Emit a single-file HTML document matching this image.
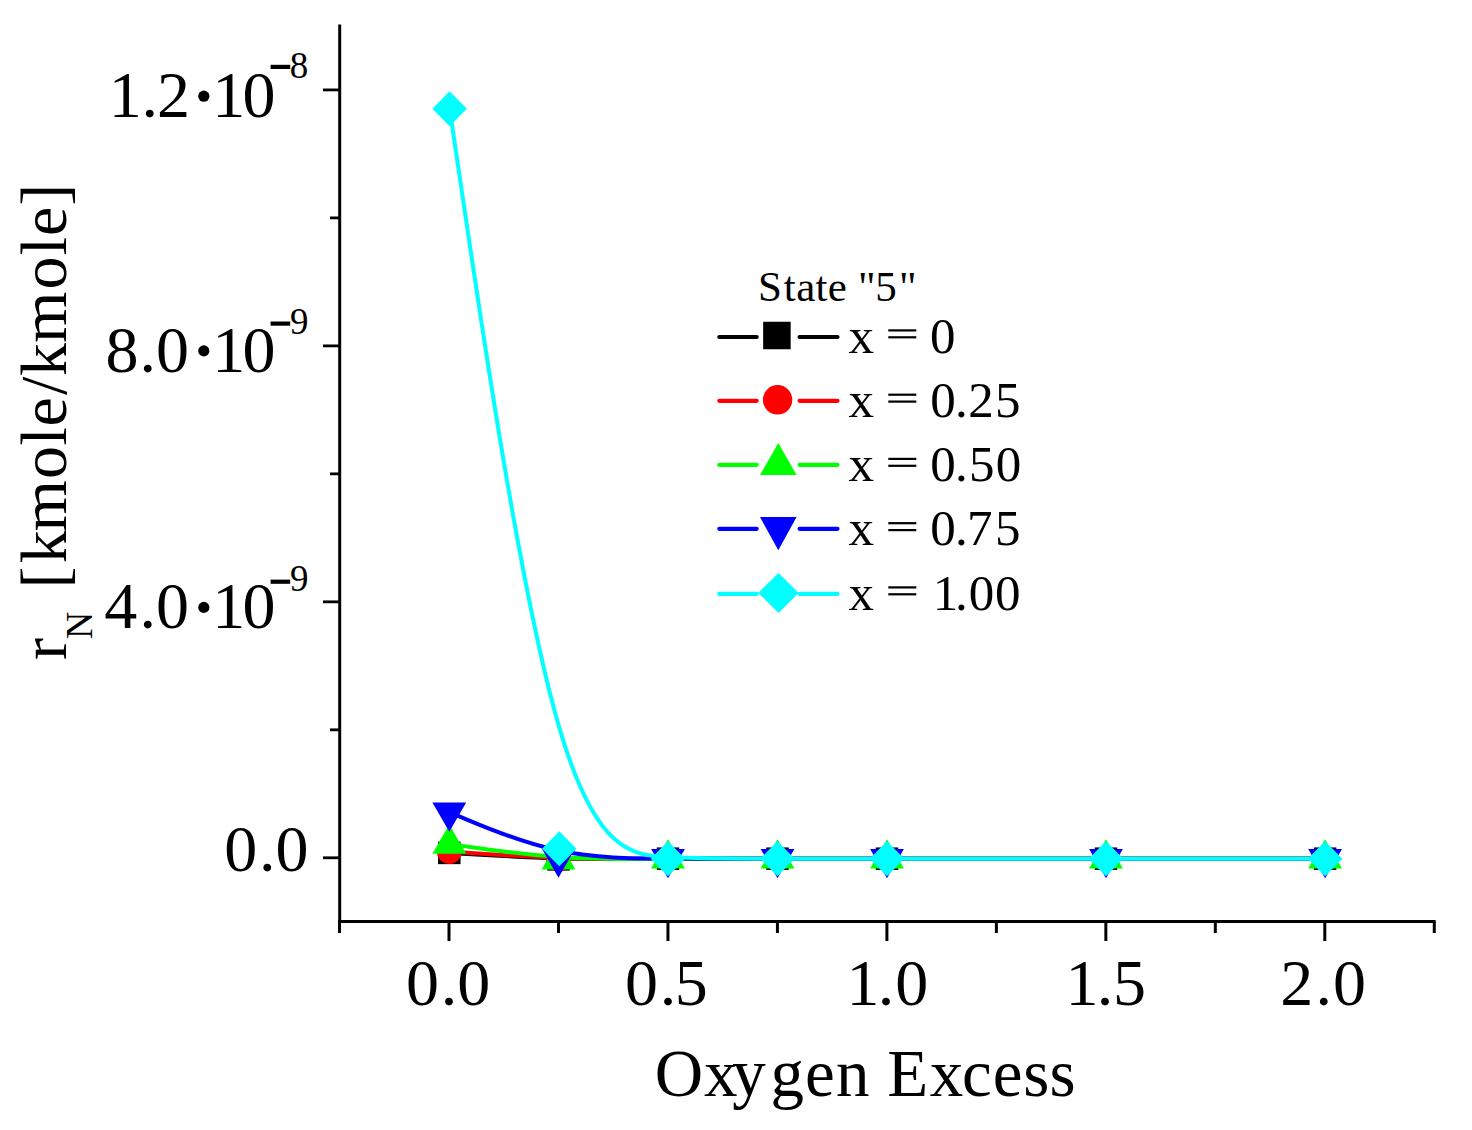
<!DOCTYPE html>
<html><head><meta charset="utf-8"><style>
html,body{margin:0;padding:0;background:#fff;overflow:hidden;}
svg{display:block;}
text{font-family:"Liberation Serif",serif;fill:#000;}
</style></head><body>
<svg width="1472" height="1130" viewBox="0 0 1472 1130">
<rect width="1472" height="1130" fill="#fff"/>
<path d="M449.30 852.90 C449.30 852.90 449.30 852.90 467.50 853.98 C485.70 855.07 522.10 857.23 558.55 858.20 C595.00 859.17 631.50 858.93 668.00 858.82 C704.50 858.70 741.00 858.70 777.50 858.70 C814.00 858.70 850.50 858.70 905.25 858.70 C960.00 858.70 1033.00 858.70 1106.02 858.70 C1179.03 858.70 1252.07 858.70 1288.58 858.70 C1325.10 858.70 1325.10 858.70 1325.10 858.70" fill="none" stroke="#000000" stroke-width="4" stroke-linejoin="round"/>
<rect x="438.05" y="841.65" width="22.5" height="22.5" fill="#000000"/>
<rect x="547.25" y="848.15" width="22.5" height="22.5" fill="#000000"/>
<rect x="656.75" y="847.45" width="22.5" height="22.5" fill="#000000"/>
<rect x="766.25" y="847.45" width="22.5" height="22.5" fill="#000000"/>
<rect x="875.75" y="847.45" width="22.5" height="22.5" fill="#000000"/>
<rect x="1094.75" y="847.45" width="22.5" height="22.5" fill="#000000"/>
<rect x="1313.85" y="847.45" width="22.5" height="22.5" fill="#000000"/>
<path d="M449.30 851.40 C449.30 851.40 449.30 851.40 467.50 852.68 C485.70 853.97 522.10 856.53 558.55 857.75 C595.00 858.97 631.50 858.83 668.00 858.77 C704.50 858.70 741.00 858.70 777.50 858.70 C814.00 858.70 850.50 858.70 905.25 858.70 C960.00 858.70 1033.00 858.70 1106.02 858.70 C1179.03 858.70 1252.07 858.70 1288.58 858.70 C1325.10 858.70 1325.10 858.70 1325.10 858.70" fill="none" stroke="#FF0000" stroke-width="4" stroke-linejoin="round"/>
<circle cx="449.3" cy="851.4" r="12.5" fill="#FF0000"/>
<circle cx="558.5" cy="859.1" r="12.5" fill="#FF0000"/>
<circle cx="668" cy="858.7" r="12.5" fill="#FF0000"/>
<circle cx="777.5" cy="858.7" r="12.5" fill="#FF0000"/>
<circle cx="887" cy="858.7" r="12.5" fill="#FF0000"/>
<circle cx="1106" cy="858.7" r="12.5" fill="#FF0000"/>
<circle cx="1325.1" cy="858.7" r="12.5" fill="#FF0000"/>
<path d="M449.30 844.00 C449.30 844.00 449.30 844.00 467.50 846.62 C485.70 849.23 522.10 854.47 558.55 856.92 C595.00 859.37 631.50 859.03 668.00 858.87 C704.50 858.70 741.00 858.70 777.50 858.70 C814.00 858.70 850.50 858.70 905.25 858.70 C960.00 858.70 1033.00 858.70 1106.02 858.70 C1179.03 858.70 1252.07 858.70 1288.58 858.70 C1325.10 858.70 1325.10 858.70 1325.10 858.70" fill="none" stroke="#00FF00" stroke-width="4" stroke-linejoin="round"/>
<polygon points="432.40,853.77 466.20,853.77 449.30,824.47" fill="#00FF00"/>
<polygon points="541.60,869.47 575.40,869.47 558.50,840.17" fill="#00FF00"/>
<polygon points="651.10,868.47 684.90,868.47 668.00,839.17" fill="#00FF00"/>
<polygon points="760.60,868.47 794.40,868.47 777.50,839.17" fill="#00FF00"/>
<polygon points="870.10,868.47 903.90,868.47 887.00,839.17" fill="#00FF00"/>
<polygon points="1089.10,868.47 1122.90,868.47 1106.00,839.17" fill="#00FF00"/>
<polygon points="1308.20,868.47 1342.00,868.47 1325.10,839.17" fill="#00FF00"/>
<path d="M449.30 812.20 C449.30 812.20 449.30 812.20 467.50 819.85 C485.70 827.50 522.10 842.80 558.55 850.55 C595.00 858.30 631.50 858.50 668.00 858.60 C704.50 858.70 741.00 858.70 777.50 858.70 C814.00 858.70 850.50 858.70 905.25 858.70 C960.00 858.70 1033.00 858.70 1106.02 858.70 C1179.03 858.70 1252.07 858.70 1288.58 858.70 C1325.10 858.70 1325.10 858.70 1325.10 858.70" fill="none" stroke="#0000FF" stroke-width="4" stroke-linejoin="round"/>
<polygon points="432.40,802.43 466.20,802.43 449.30,831.73" fill="#0000FF"/>
<polygon points="541.60,848.33 575.40,848.33 558.50,877.63" fill="#0000FF"/>
<polygon points="651.10,848.93 684.90,848.93 668.00,878.23" fill="#0000FF"/>
<polygon points="760.60,848.93 794.40,848.93 777.50,878.23" fill="#0000FF"/>
<polygon points="870.10,848.93 903.90,848.93 887.00,878.23" fill="#0000FF"/>
<polygon points="1089.10,848.93 1122.90,848.93 1106.00,878.23" fill="#0000FF"/>
<polygon points="1308.20,848.93 1342.00,848.93 1325.10,878.23" fill="#0000FF"/>
<path d="M449.60 108.70 C449.60 108.70 449.60 108.70 467.88 232.05 C486.17 355.40 522.73 602.10 559.13 727.10 C595.53 852.10 631.77 855.40 668.13 857.05 C704.50 858.70 741.00 858.70 777.50 858.70 C814.00 858.70 850.50 858.70 905.25 858.70 C960.00 858.70 1033.00 858.70 1106.02 858.70 C1179.03 858.70 1252.07 858.70 1288.58 858.70 C1325.10 858.70 1325.10 858.70 1325.10 858.70" fill="none" stroke="#00FFFF" stroke-width="4" stroke-linejoin="round"/>
<polygon points="432.35,108.70 449.60,91.20 466.85,108.70 449.60,126.20" fill="#00FFFF"/>
<polygon points="542.05,848.80 559.30,831.30 576.55,848.80 559.30,866.30" fill="#00FFFF"/>
<polygon points="650.75,858.70 668.00,841.20 685.25,858.70 668.00,876.20" fill="#00FFFF"/>
<polygon points="760.25,858.70 777.50,841.20 794.75,858.70 777.50,876.20" fill="#00FFFF"/>
<polygon points="869.75,858.70 887.00,841.20 904.25,858.70 887.00,876.20" fill="#00FFFF"/>
<polygon points="1088.75,858.70 1106.00,841.20 1123.25,858.70 1106.00,876.20" fill="#00FFFF"/>
<polygon points="1307.85,858.70 1325.10,841.20 1342.35,858.70 1325.10,876.20" fill="#00FFFF"/>
<line x1="719.3" y1="337.0" x2="756.7" y2="337.0" stroke="#000000" stroke-width="4.2" stroke-linecap="round"/>
<line x1="799.6" y1="337.0" x2="837.5" y2="337.0" stroke="#000000" stroke-width="4.2" stroke-linecap="round"/>
<rect x="763.15" y="321.75" width="27.5" height="27.5" fill="#000000"/>
<line x1="719.3" y1="400.8" x2="756.7" y2="400.8" stroke="#FF0000" stroke-width="4.2" stroke-linecap="round"/>
<line x1="799.6" y1="400.8" x2="837.5" y2="400.8" stroke="#FF0000" stroke-width="4.2" stroke-linecap="round"/>
<circle cx="777.6" cy="399.8" r="14.7" fill="#FF0000"/>
<line x1="719.3" y1="464.8" x2="756.7" y2="464.8" stroke="#00FF00" stroke-width="4.2" stroke-linecap="round"/>
<line x1="799.6" y1="464.8" x2="837.5" y2="464.8" stroke="#00FF00" stroke-width="4.2" stroke-linecap="round"/>
<polygon points="760.00,474.97 796.60,474.97 778.30,442.97" fill="#00FF00"/>
<line x1="719.3" y1="528.8" x2="756.7" y2="528.8" stroke="#0000FF" stroke-width="4.2" stroke-linecap="round"/>
<line x1="799.6" y1="528.8" x2="837.5" y2="528.8" stroke="#0000FF" stroke-width="4.2" stroke-linecap="round"/>
<polygon points="760.00,517.03 796.60,517.03 778.30,550.23" fill="#0000FF"/>
<line x1="719.3" y1="593.9" x2="756.7" y2="593.9" stroke="#00FFFF" stroke-width="4.2" stroke-linecap="round"/>
<line x1="799.6" y1="593.9" x2="837.5" y2="593.9" stroke="#00FFFF" stroke-width="4.2" stroke-linecap="round"/>
<polygon points="758.35,592.90 778.50,572.90 798.65,592.90 778.50,612.90" fill="#00FFFF"/>
<line x1="339.7" y1="24.5" x2="339.7" y2="923.1" stroke="#000" stroke-width="3" stroke-linecap="butt"/>
<line x1="338.2" y1="921.6" x2="1435.7" y2="921.6" stroke="#000" stroke-width="3" stroke-linecap="butt"/>
<line x1="323" y1="857.8" x2="339.7" y2="857.8" stroke="#000" stroke-width="2.8" stroke-linecap="butt"/>
<line x1="323" y1="601.8399999999999" x2="339.7" y2="601.8399999999999" stroke="#000" stroke-width="2.8" stroke-linecap="butt"/>
<line x1="323" y1="345.87999999999994" x2="339.7" y2="345.87999999999994" stroke="#000" stroke-width="2.8" stroke-linecap="butt"/>
<line x1="323" y1="89.91999999999996" x2="339.7" y2="89.91999999999996" stroke="#000" stroke-width="2.8" stroke-linecap="butt"/>
<line x1="330" y1="729.8199999999999" x2="339.7" y2="729.8199999999999" stroke="#000" stroke-width="2.8" stroke-linecap="butt"/>
<line x1="330" y1="473.85999999999996" x2="339.7" y2="473.85999999999996" stroke="#000" stroke-width="2.8" stroke-linecap="butt"/>
<line x1="330" y1="217.89999999999998" x2="339.7" y2="217.89999999999998" stroke="#000" stroke-width="2.8" stroke-linecap="butt"/>
<line x1="449.0" y1="921.6" x2="449.0" y2="941" stroke="#000" stroke-width="3" stroke-linecap="butt"/>
<line x1="667.95" y1="921.6" x2="667.95" y2="941" stroke="#000" stroke-width="3" stroke-linecap="butt"/>
<line x1="886.9" y1="921.6" x2="886.9" y2="941" stroke="#000" stroke-width="3" stroke-linecap="butt"/>
<line x1="1105.85" y1="921.6" x2="1105.85" y2="941" stroke="#000" stroke-width="3" stroke-linecap="butt"/>
<line x1="1324.8" y1="921.6" x2="1324.8" y2="941" stroke="#000" stroke-width="3" stroke-linecap="butt"/>
<line x1="339.525" y1="921.6" x2="339.525" y2="933" stroke="#000" stroke-width="3" stroke-linecap="butt"/>
<line x1="558.475" y1="921.6" x2="558.475" y2="933" stroke="#000" stroke-width="3" stroke-linecap="butt"/>
<line x1="777.425" y1="921.6" x2="777.425" y2="933" stroke="#000" stroke-width="3" stroke-linecap="butt"/>
<line x1="996.375" y1="921.6" x2="996.375" y2="933" stroke="#000" stroke-width="3" stroke-linecap="butt"/>
<line x1="1215.3249999999998" y1="921.6" x2="1215.3249999999998" y2="933" stroke="#000" stroke-width="3" stroke-linecap="butt"/>
<line x1="1434.275" y1="921.6" x2="1434.275" y2="933" stroke="#000" stroke-width="3" stroke-linecap="butt"/>
<text x="108.7 141.6 157.1" y="117" font-size="66">1.2</text>
<circle cx="203.8" cy="96.2" r="5.6" fill="#000"/>
<text x="212.2 242.4" y="117" font-size="66">10</text>
<rect x="270.6" y="64.8" width="19.6" height="4.2" fill="#000"/>
<text x="289.8" y="78.2" font-size="37">8</text>
<text x="105.4 139.4 156.0" y="371.7" font-size="66">8.0</text>
<circle cx="203.8" cy="350.9" r="5.6" fill="#000"/>
<text x="212.2 242.4" y="371.7" font-size="66">10</text>
<rect x="270.6" y="321.5" width="19.6" height="4.2" fill="#000"/>
<text x="290.0" y="334.2" font-size="37">9</text>
<text x="104.2 139.4 156.0" y="628.2" font-size="66">4.0</text>
<circle cx="203.8" cy="607.4" r="5.6" fill="#000"/>
<text x="212.2 242.4" y="628.2" font-size="66">10</text>
<rect x="270.6" y="579.6" width="19.6" height="4.2" fill="#000"/>
<text x="290.0" y="590.5" font-size="37">9</text>
<text x="224.3 258.9 275.5" y="871.0" font-size="66">0.0</text>
<text x="406.0 440.8 457.3" y="1004.6" font-size="66">0.0</text>
<text x="625.0 659.8 674.8" y="1004.6" font-size="66">0.5</text>
<text x="846.4 877.7 895.3" y="1004.6" font-size="66">1.0</text>
<text x="1065.4 1096.7 1113.0" y="1004.6" font-size="66">1.5</text>
<text x="1280.2 1315.5 1333.1" y="1004.6" font-size="66">2.0</text>
<text x="654.8 704.0 732.2 770.4 805.1 836.1 869.6 887.2 929.7 962.0 992.7 1023.2 1049.4" y="1096" font-size="67">Oxygen Excess</text>
<text transform="rotate(-90)" x="-660.0" y="65.6" font-size="66">r</text>
<text transform="rotate(-90)" x="-638.9" y="91.9" font-size="38">N</text>
<text transform="rotate(-90)" x="-588.4 -563.3 -531.4 -478.9 -445.6 -426.4 -395.1 -376.0 -343.0 -289.5 -255.3 -236.1 -205.8" y="65.6" font-size="66">[kmole/kmole]</text>
<text x="758.1 783.8 796.2 815.6 827.8 846.9 858.0 875.3 898.9" y="300.7" font-size="43">State &quot;5&quot;</text>
<text x="848.6" y="352.6" font-size="51">x</text>
<rect x="888.3" y="329.3" width="28" height="2.2" fill="#000"/>
<rect x="888.3" y="336.2" width="28" height="2.2" fill="#000"/>
<text x="930.0" y="352.6" font-size="51">0</text>
<text x="848.6" y="416.85" font-size="51">x</text>
<rect x="888.3" y="393.6" width="28" height="2.2" fill="#000"/>
<rect x="888.3" y="400.5" width="28" height="2.2" fill="#000"/>
<text x="930.2 955.1 968.3 995.1" y="416.85" font-size="51">0.25</text>
<text x="848.6" y="481.1" font-size="51">x</text>
<rect x="888.3" y="457.8" width="28" height="2.2" fill="#000"/>
<rect x="888.3" y="464.7" width="28" height="2.2" fill="#000"/>
<text x="930.2 955.1 968.9 995.8" y="481.1" font-size="51">0.50</text>
<text x="848.6" y="545.35" font-size="51">x</text>
<rect x="888.3" y="522.1" width="28" height="2.2" fill="#000"/>
<rect x="888.3" y="529.0" width="28" height="2.2" fill="#000"/>
<text x="930.2 955.1 967.1 995.1" y="545.35" font-size="51">0.75</text>
<text x="848.6" y="609.6" font-size="51">x</text>
<rect x="888.3" y="586.3" width="28" height="2.2" fill="#000"/>
<rect x="888.3" y="593.2" width="28" height="2.2" fill="#000"/>
<text x="932.7 955.1 968.7 995.0" y="609.6" font-size="51">1.00</text>
</svg>
</body></html>
